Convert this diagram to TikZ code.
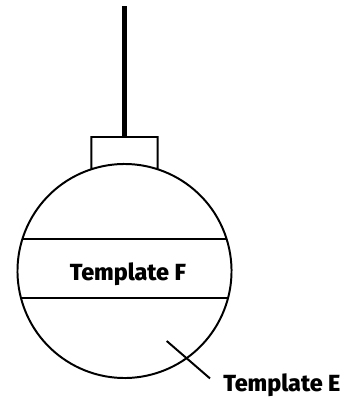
\documentclass[tikz,border=0pt]{standalone}
\usepackage{fontspec}
\setsansfont{Fira Sans}[BoldFont={Fira Sans ExtraBold}]
\usetikzlibrary{calc}

\tikzset{outline/.style={black, line width=1.4pt},
  tlabel/.style={font=\sffamily\bfseries\fontsize{16.6}{19}\selectfont, inner sep=0pt}}

\begin{document}
\begin{tikzpicture}[x=0.025cm, y=0.025cm]
		\useasboundingbox (0,0) rectangle (355,398);
		\coordinate (c) at (124.5,127);
		\coordinate (stemTop) at (124.5,392);
		\coordinate (stemFoot) at (124.5,261);
		% stem
		\draw[black, line width=3.5pt] (stemFoot) -- (stemTop);
		% neck and globe
		\draw[outline, line join=miter] ($(c)+(72:107)$) -- (157.6,261) -- (91.4,261) -- ($(c)+(108:107)$)
			arc[start angle=108, end angle=-288, radius=107] -- cycle;
		% band
		\draw[outline] ($(c)+(17.4:107)$) -- ($(c)+(162.6:107)$);
		\draw[outline] ($(c)+(-14.6:107)$) -- ($(c)+(194.6:107)$);
		\node[tlabel, anchor=base] (tplF) at (127.8,117.5) {Template F};
		\node[tlabel, anchor=base west] (tplE) at (223,6.5) {Template E};
		\coordinate (eTip) at (166.7,57);
		\draw[outline] (eTip) -- ([shift={(-13,-5)}]tplE.north west);
		\end{tikzpicture}
\end{document}
